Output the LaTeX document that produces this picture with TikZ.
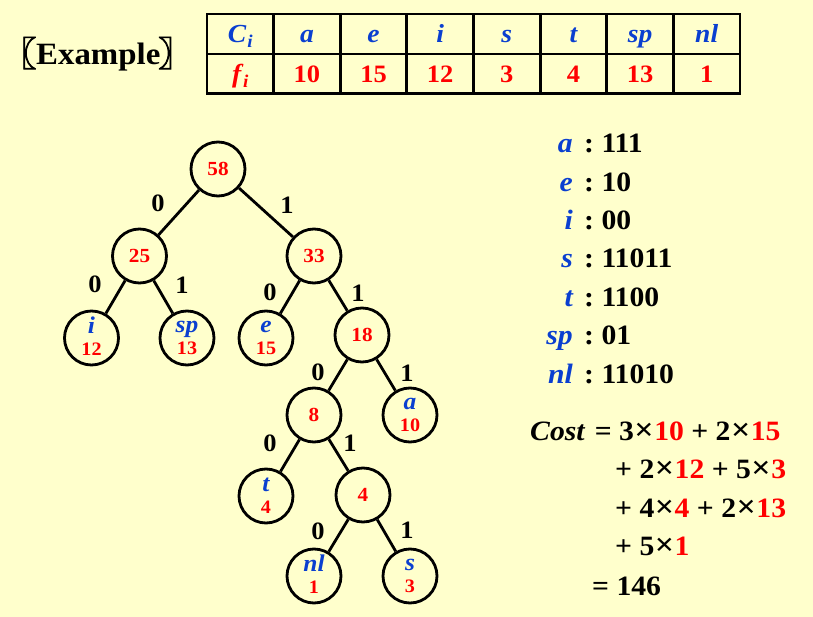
\documentclass[tikz,border=0pt]{standalone}
\usepackage{fontspec}
\setmainfont{Liberation Serif}[FakeStretch=1.06]
\newfontfamily\cjk{Noto Sans CJK SC}[FakeBold=2.5]
\definecolor{bg}{HTML}{FFFFCC}
\definecolor{cb}{HTML}{0A3FD0}
\definecolor{cr}{HTML}{FF0000}
\newcommand\fs[1]{\fontsize{#1}{#1}\selectfont}
\newcommand\lfx[2]{\rule{0pt}{12pt}\smash{\textcolor{cb}{\itshape\fs{24}#1}}\\\textcolor{cr}{\fs{19}#2}}
\newcommand\rd[1]{\textcolor{cr}{#1}}
\newcommand\tm{\kern0.5pt\raisebox{-0.5pt}{\fs{32}×}\kern0.5pt}
\begin{document}
\begin{tikzpicture}[x=1pt,y=-1pt,
  nd/.style={circle,draw,line width=2.8pt,minimum size=54pt,inner sep=0pt,
    font=\bfseries\fontsize{20}{22}\selectfont,text=cr,align=center},
  ed/.style={line width=2.8pt},
  bit/.style={font=\bfseries\fs{25},inner sep=0pt},
  grid/.style={line width=2.8pt},
  hd/.style={text=cb,font=\bfseries\itshape\fs{26},anchor=base,inner sep=0pt},
  fv/.style={text=cr,font=\bfseries\fs{25},anchor=base,inner sep=0pt},
  cl/.style={text=cb,font=\bfseries\itshape\fs{28},anchor=base east,inner sep=0pt},
  cc/.style={font=\bfseries\fs{28},anchor=base west,inner sep=0pt},
  ct/.style={font=\bfseries\fs{28},anchor=base west,inner sep=0pt}
]
\fill[bg] (0,0) rectangle (813,617);
\useasboundingbox (0,0) rectangle (813,617);

% title
\node[font=\bfseries\fs{31},anchor=base west,inner sep=0pt] (ex) at (2,65)
  {\raisebox{-1pt}{\cjk\fs{34}〖}\kern0pt Example\kern-2pt\raisebox{-1pt}{\cjk\fs{34}〗}};

% table
\draw[grid] (207,14) rectangle (740,93.5);
\draw[grid] (207,54) -- (740,54);
\foreach \k in {1,...,7} \draw[grid] (207+66.625*\k,14) -- (207+66.625*\k,93.5);
\node[hd] (hC) at (240.3,43) {C\kern1pt\raisebox{-5pt}{\fs{18}i}};
\node[hd,text=cr] (hf) at (240.3,83) {f\kern2pt\raisebox{-5pt}{\fs{18}i}};
\foreach \c/\f [count=\k] in {a/10,e/15,i/12,s/3,t/4,sp/13,nl/1}{
  \node[hd] (h\k) at (207+66.625*\k+33.3,43) {\c};
  \node[fv] (f\k) at (207+66.625*\k+33.3,83) {\f};
}

% tree
\node[nd] (n58) at (218,169) {58};
\node[nd] (n25) at (139.5,256) {25};
\node[nd] (n33) at (314,256) {33};
\node[nd] (ni)  at (91.5,338) {\lfx{i}{12}};
\node[nd] (nsp) at (187,338) {\lfx{sp}{13}};
\node[nd] (ne)  at (266,338) {\lfx{e}{15}};
\node[nd] (n18) at (362,335) {18};
\node[nd] (n8)  at (314,415) {8};
\node[nd] (na)  at (410,415) {\lfx{a}{10}};
\node[nd] (nt)  at (266,496) {\lfx{t}{4}};
\node[nd] (n4)  at (363,495) {4};
\node[nd] (nnl) at (314,576) {\lfx{nl}{1}};
\node[nd] (ns)  at (410,576) {\lfx{s}{3}};

\draw[ed] (n58) -- (n25) node[bit] at (158,203) {0};
\draw[ed] (n58) -- (n33) node[bit] at (287,205) {1};
\draw[ed] (n25) -- (ni)  node[bit] at (95,284) {0};
\draw[ed] (n25) -- (nsp) node[bit] at (182,285) {1};
\draw[ed] (n33) -- (ne)  node[bit] at (270,292) {0};
\draw[ed] (n33) -- (n18) node[bit] at (358,293) {1};
\draw[ed] (n18) -- (n8)  node[bit] at (318,372) {0};
\draw[ed] (n18) -- (na)  node[bit] at (407,373) {1};
\draw[ed] (n8)  -- (nt)  node[bit] at (270,443) {0};
\draw[ed] (n8)  -- (n4)  node[bit] at (350,443) {1};
\draw[ed] (n4)  -- (nnl) node[bit] at (318,531) {0};
\draw[ed] (n4)  -- (ns)  node[bit] at (407,530) {1};

% codes
\foreach \l/\c/\y [count=\k] in {a/111/153,e/10/191.3,i/00/229.6,s/11011/268,t/1100/306.3,sp/01/344.6,nl/11010/383}{
  \node[cl] (cl\k) at (573,\y) {\l};
  \node[cc] (cc\k) at (584,\y) {:\ \c};
}

% cost
\node[ct] (c1) at (530,440) {\textit{Cost}\kern2pt{} = 3\tm\rd{10} + 2\tm\rd{15}};
\node[ct] (c2) at (615,478) {+ 2\tm\rd{12} + 5\tm\rd{3}};
\node[ct] (c3) at (615,517) {+ 4\tm\rd{4} + 2\tm\rd{13}};
\node[ct] (c4) at (615,555) {+ 5\tm\rd{1}};
\node[ct] (c5) at (592,595) {= 146};
\end{tikzpicture}
\end{document}
